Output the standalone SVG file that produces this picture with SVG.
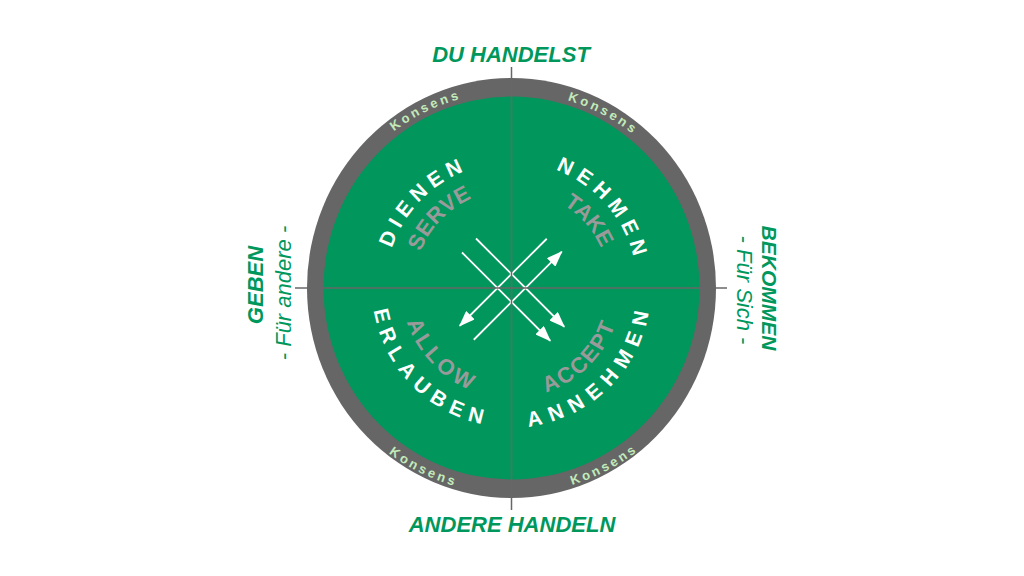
<svg xmlns="http://www.w3.org/2000/svg" xmlns:xlink="http://www.w3.org/1999/xlink" width="1024" height="576" viewBox="0 0 1024 576">
<style>
.lbl{font-family:"Liberation Sans",Arial,sans-serif;fill:#00975c;font-style:italic;font-size:22px}
.b{font-weight:bold}
.w{font-family:"Liberation Sans",Arial,sans-serif;font-weight:bold;font-size:21px;fill:#ffffff}
.g{font-family:"Liberation Sans",Arial,sans-serif;font-weight:bold;font-size:22px;fill:#9a9a9a}
.k{font-family:"Liberation Sans",Arial,sans-serif;font-weight:bold;font-size:13px;fill:#c2ebbb;letter-spacing:3px}
.axis{stroke:#676767;stroke-width:1.5;fill:none}
.arr{stroke:#ffffff;stroke-width:1.8;fill:none;marker-end:url(#ah)}
</style>
<defs>
<marker id="ah" viewBox="0 0 16 12" refX="15" refY="6" markerWidth="16" markerHeight="12" markerUnits="userSpaceOnUse" orient="auto">
<path d="M0,0 L16,6 L0,12 z" fill="#ffffff"/>
</marker>
<path id="t126" d="M385.5,288 A126,126 0 0 1 637.5,288"/>
<path id="t98" d="M413.5,288 A98,98 0 0 1 609.5,288"/>
<path id="b139" d="M372,288 A139.5,139.5 0 0 0 651,288"/>
<path id="b110" d="M401.5,288 A110,110 0 0 0 621.5,288"/>
<path id="t196" d="M315.5,288 A196,196 0 0 1 707.5,288"/>
<path id="b206" d="M305.5,288 A206,206 0 0 0 717.5,288"/>
</defs>
<rect width="1024" height="576" fill="#ffffff"/>
<g id="ring">
<ellipse cx="511.5" cy="288" rx="204.5" ry="210" fill="#666666"/>
<ellipse cx="511.5" cy="288" rx="188" ry="191.5" fill="#00965c"/>
</g>
<g id="connectors">
<line class="arr" x1="476" y1="238.5" x2="564.25" y2="326.75"/>
<line class="arr" x1="462" y1="252.5" x2="550.25" y2="340.75"/>
<line class="arr" x1="546.75" y1="238.75" x2="459.75" y2="325.75"/>
<line class="arr" x1="473.75" y1="339.75" x2="561.75" y2="251.75"/>
</g>
<g id="axes">
<line class="axis" x1="511.5" y1="67" x2="511.5" y2="510"/>
<line class="axis" x1="295" y1="288" x2="727" y2="288"/>
</g>
<g id="konsens">
<text class="k" transform="rotate(-25.8 511.5 288)"><textPath xlink:href="#t196" href="#t196" startOffset="50%" text-anchor="middle">Konsens</textPath></text>
<text class="k" transform="rotate(27.7 511.5 288)"><textPath xlink:href="#t196" href="#t196" startOffset="50%" text-anchor="middle">Konsens</textPath></text>
<text class="k" transform="rotate(26.1 511.5 288)"><textPath xlink:href="#b206" href="#b206" startOffset="50%" text-anchor="middle">Konsens</textPath></text>
<text class="k" transform="rotate(-27.6 511.5 288)"><textPath xlink:href="#b206" href="#b206" startOffset="50%" text-anchor="middle">Konsens</textPath></text>
</g>
<g id="q-dienen">
<text class="w" style="letter-spacing:5.8px" transform="rotate(-45.7 511.5 288)"><textPath xlink:href="#t126" href="#t126" startOffset="50%" text-anchor="middle">DIENEN</textPath></text>
<text class="g" style="letter-spacing:0.5px" transform="rotate(-45.9 511.5 288)"><textPath xlink:href="#t98" href="#t98" startOffset="50%" text-anchor="middle">SERVE</textPath></text>
</g>
<g id="q-nehmen">
<text class="w" style="letter-spacing:6px" transform="rotate(49.4 511.5 288)"><textPath xlink:href="#t126" href="#t126" startOffset="50%" text-anchor="middle">NEHMEN</textPath></text>
<text class="g" transform="rotate(49 511.5 288)"><textPath xlink:href="#t98" href="#t98" startOffset="50%" text-anchor="middle">TAKE</textPath></text>
</g>
<g id="q-erlauben">
<text class="w" style="letter-spacing:7.1px" transform="rotate(45.1 511.5 288)"><textPath xlink:href="#b139" href="#b139" startOffset="50%" text-anchor="middle">ERLAUBEN</textPath></text>
<text class="g" style="letter-spacing:3.7px" transform="rotate(46.2 511.5 288)"><textPath xlink:href="#b110" href="#b110" startOffset="50%" text-anchor="middle">ALLOW</textPath></text>
</g>
<g id="q-annehmen">
<text class="w" style="letter-spacing:8px" transform="rotate(-45.1 511.5 288)"><textPath xlink:href="#b139" href="#b139" startOffset="50%" text-anchor="middle">ANNEHMEN</textPath></text>
<text class="g" style="letter-spacing:1.9px" transform="rotate(-44.8 511.5 288)"><textPath xlink:href="#b110" href="#b110" startOffset="50%" text-anchor="middle">ACCEPT</textPath></text>
</g>
<g id="top-label"><text class="lbl b" x="511" y="62" text-anchor="middle">DU HANDELST</text></g>
<g id="bottom-label"><text class="lbl b" x="512" y="532" text-anchor="middle">ANDERE HANDELN</text></g>
<g id="left-label">
<text class="lbl b" text-anchor="middle" transform="translate(263,285) rotate(-90)">GEBEN</text>
<text class="lbl" text-anchor="middle" transform="translate(291,293) rotate(-90)">- Für andere -</text>
</g>
<g id="right-label">
<text class="lbl b" style="font-size:21px" text-anchor="middle" transform="translate(762,288) rotate(90)">BEKOMMEN</text>
<text class="lbl" text-anchor="middle" transform="translate(737,290) rotate(90)">- Für Sich -</text>
</g>
</svg>
